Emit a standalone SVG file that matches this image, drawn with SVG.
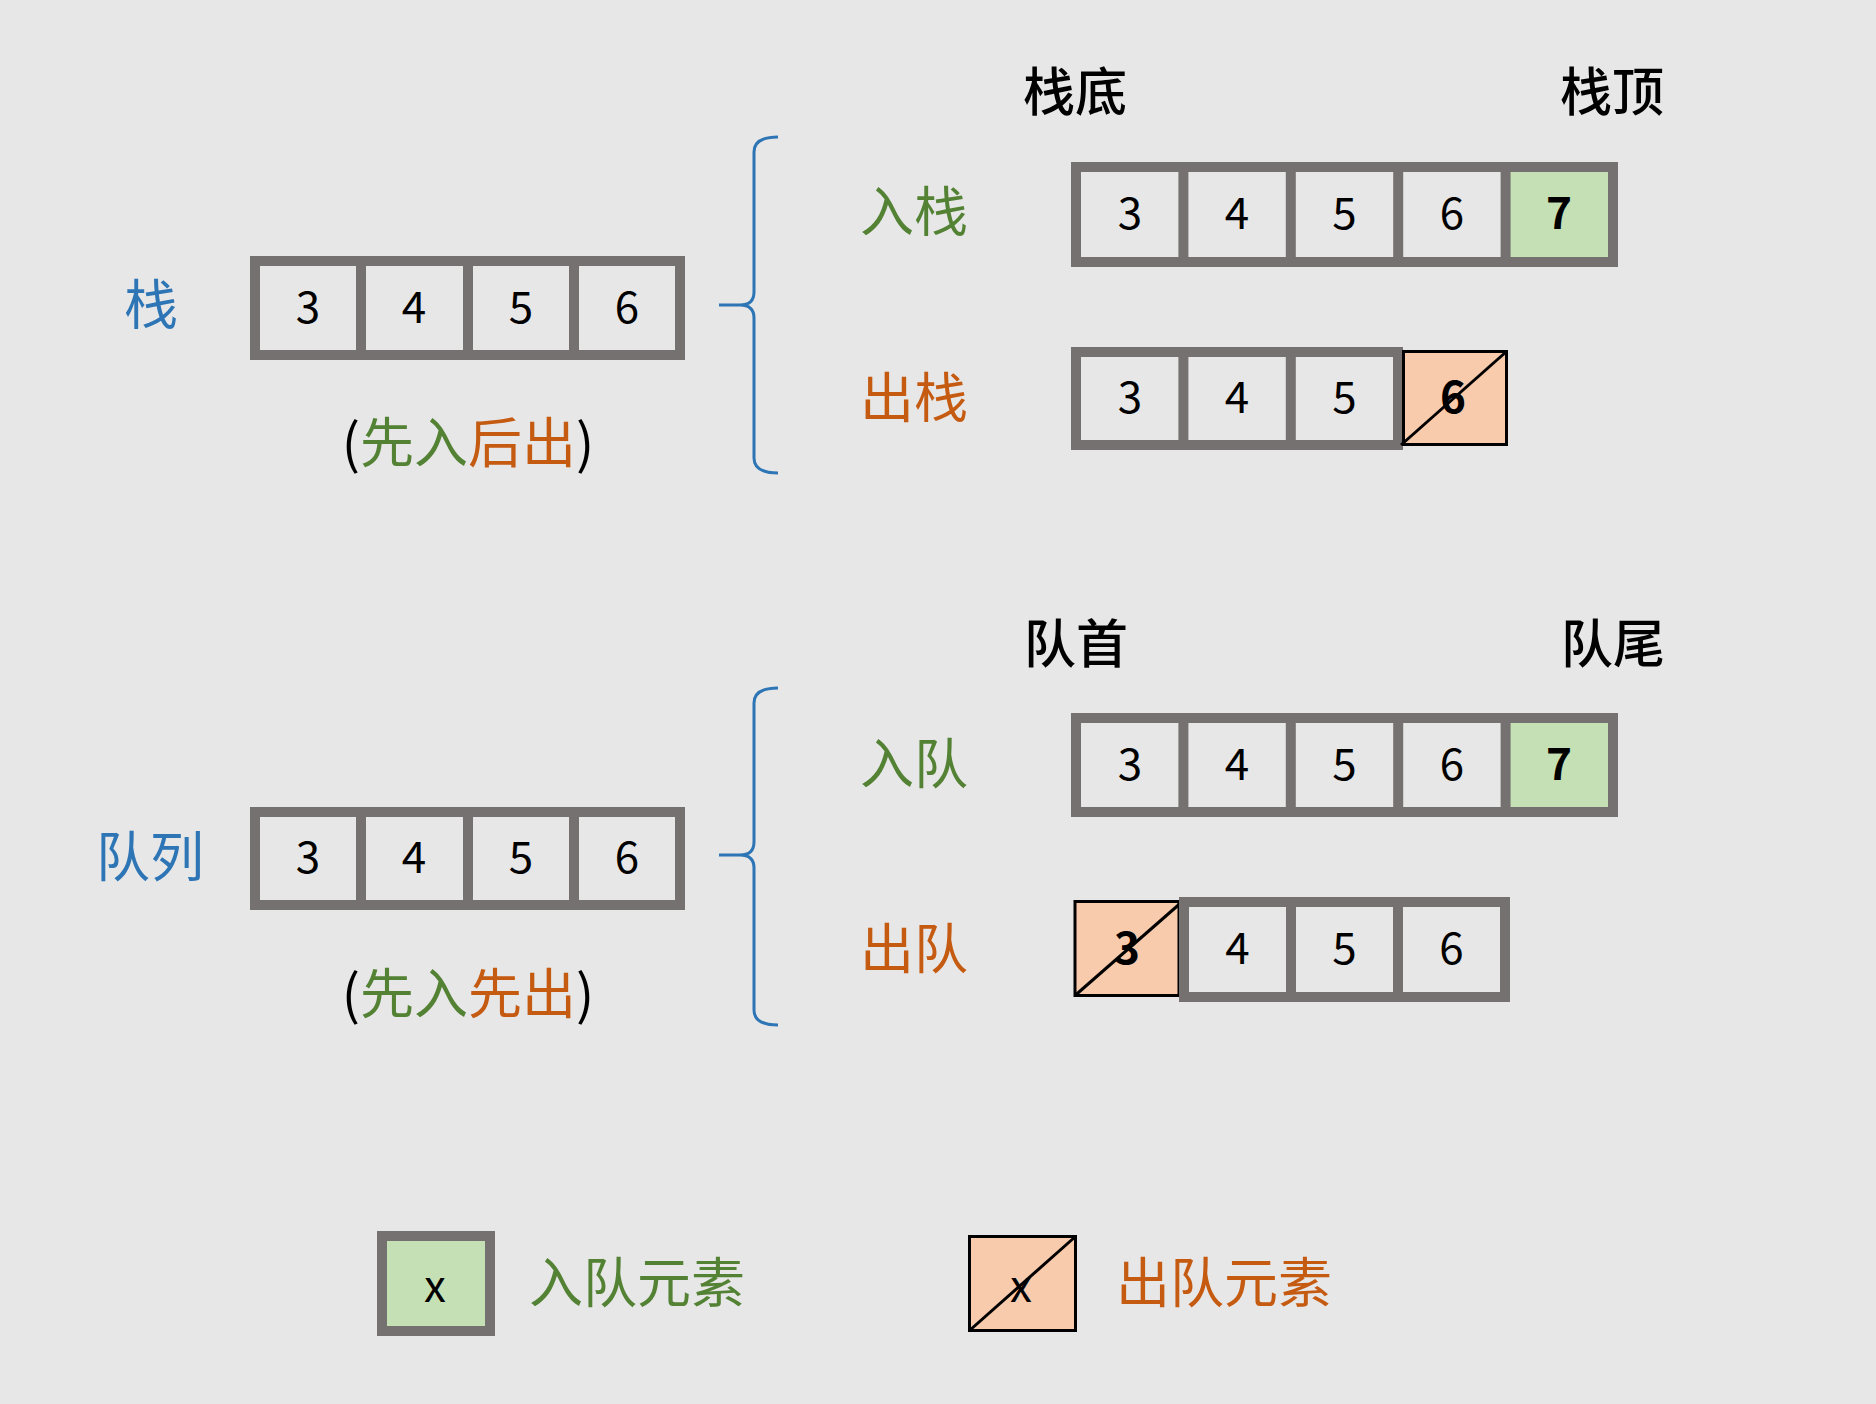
<svg xmlns="http://www.w3.org/2000/svg" width="1876" height="1404" viewBox="0 0 1876 1404">
<style>
.bg{fill:#e7e7e7}
.box{fill:none;stroke:#767171;stroke-width:10}
.div{stroke:#767171;stroke-width:10}
.gfill{fill:#c5e0b4}
.ofill{fill:#f8cbad;stroke:#000;stroke-width:3}
.slash{stroke:#000;stroke-width:3}
.num{font-family:"Noto Sans CJK SC","Noto Sans",sans-serif;font-size:44px;fill:#000;text-anchor:middle}
.b{font-weight:bold}
.lbl{font-family:"Noto Sans CJK SC",sans-serif;font-size:54px;text-anchor:middle}
.hdr{font-family:"Noto Sans CJK SC",sans-serif;font-size:52px;font-weight:500;fill:#000;text-anchor:middle}
.blue{fill:#2e75b6}
.green{fill:#548235}
.orange{fill:#c55a11}
.blk{fill:#000}
.brace{fill:none;stroke:#2e75b6;stroke-width:3}
</style>
<rect class="bg" x="0" y="0" width="1876" height="1404"/>

<!-- Stack -->
<g id="stack-label"><text class="lbl blue" x="151" y="325">栈</text></g>
<g id="stack">
  <rect class="box" x="255" y="261" width="425" height="94"/>
  <line class="div" x1="361" y1="261" x2="361" y2="355"/>
  <line class="div" x1="468" y1="261" x2="468" y2="355"/>
  <line class="div" x1="574" y1="261" x2="574" y2="355"/>
  <text class="num" x="308" y="323">3</text>
  <text class="num" x="414" y="323">4</text>
  <text class="num" x="521" y="323">5</text>
  <text class="num" x="627" y="323">6</text>
</g>
<g id="stack-note"><text class="lbl" x="468" y="463"><tspan class="blk">(</tspan><tspan class="green">先入</tspan><tspan class="orange">后出</tspan><tspan class="blk">)</tspan></text></g>

<g id="stack-bottom-label"><text class="hdr" x="1075" y="111">栈底</text></g>
<g id="stack-top-label"><text class="hdr" x="1612" y="111">栈顶</text></g>

<g id="push-label"><text class="lbl green" x="914" y="232">入栈</text></g>
<g id="push-stack">
  <rect class="gfill" x="1505" y="167" width="108" height="95"/>
  <rect class="box" x="1076" y="167" width="537" height="95"/>
  <line class="div" x1="1183.4" y1="167" x2="1183.4" y2="262"/>
  <line class="div" x1="1290.8" y1="167" x2="1290.8" y2="262"/>
  <line class="div" x1="1398.2" y1="167" x2="1398.2" y2="262"/>
  <line class="div" x1="1505.6" y1="167" x2="1505.6" y2="262"/>
  <text class="num" x="1130" y="229">3</text>
  <text class="num" x="1237" y="229">4</text>
  <text class="num" x="1344.5" y="229">5</text>
  <text class="num" x="1452" y="229">6</text>
  <text class="num b" x="1559" y="229">7</text>
</g>

<g id="pop-label"><text class="lbl orange" x="914" y="418">出栈</text></g>
<g id="pop-stack">
  <rect class="box" x="1076" y="352" width="322" height="93"/>
  <line class="div" x1="1183.4" y1="352" x2="1183.4" y2="445"/>
  <line class="div" x1="1290.8" y1="352" x2="1290.8" y2="445"/>
  <text class="num" x="1130" y="413">3</text>
  <text class="num" x="1237" y="413">4</text>
  <text class="num" x="1344.5" y="413">5</text>
  <rect class="ofill" x="1403.5" y="351.5" width="103" height="93"/>
  <text class="num b" x="1453" y="413">6</text>
  <line class="slash" x1="1401" y1="445" x2="1506.5" y2="351.5"/>
</g>

<!-- Queue -->
<g id="queue-label"><text class="lbl blue" x="150" y="877">队列</text></g>
<g id="queue">
  <rect class="box" x="255" y="812" width="425" height="93"/>
  <line class="div" x1="361" y1="812" x2="361" y2="905"/>
  <line class="div" x1="468" y1="812" x2="468" y2="905"/>
  <line class="div" x1="574" y1="812" x2="574" y2="905"/>
  <text class="num" x="308" y="873">3</text>
  <text class="num" x="414" y="873">4</text>
  <text class="num" x="521" y="873">5</text>
  <text class="num" x="627" y="873">6</text>
</g>
<g id="queue-note"><text class="lbl" x="468" y="1014"><tspan class="blk">(</tspan><tspan class="green">先入</tspan><tspan class="orange">先出</tspan><tspan class="blk">)</tspan></text></g>

<g id="queue-head-label"><text class="hdr" x="1076" y="663">队首</text></g>
<g id="queue-tail-label"><text class="hdr" x="1613" y="663">队尾</text></g>

<g id="enqueue-label"><text class="lbl green" x="914" y="784">入队</text></g>
<g id="enqueue">
  <rect class="gfill" x="1505" y="718" width="108" height="94"/>
  <rect class="box" x="1076" y="718" width="537" height="94"/>
  <line class="div" x1="1183.4" y1="718" x2="1183.4" y2="812"/>
  <line class="div" x1="1290.8" y1="718" x2="1290.8" y2="812"/>
  <line class="div" x1="1398.2" y1="718" x2="1398.2" y2="812"/>
  <line class="div" x1="1505.6" y1="718" x2="1505.6" y2="812"/>
  <text class="num" x="1130" y="780">3</text>
  <text class="num" x="1237" y="780">4</text>
  <text class="num" x="1344.5" y="780">5</text>
  <text class="num" x="1452" y="780">6</text>
  <text class="num b" x="1559" y="780">7</text>
</g>

<g id="dequeue-label"><text class="lbl orange" x="914" y="969">出队</text></g>
<g id="dequeue">
  <rect class="ofill" x="1075" y="901.5" width="104" height="94"/>
  <text class="num b" x="1127" y="964">3</text>
  <line class="slash" x1="1075" y1="995.5" x2="1183" y2="901"/>
  <rect class="box" x="1184" y="902" width="321" height="95"/>
  <line class="div" x1="1291" y1="902" x2="1291" y2="997"/>
  <line class="div" x1="1398" y1="902" x2="1398" y2="997"/>
  <text class="num" x="1237.5" y="964">4</text>
  <text class="num" x="1344.5" y="964">5</text>
  <text class="num" x="1451.5" y="964">6</text>
</g>

<!-- Legend -->
<g id="legend-enqueue">
  <rect class="gfill" x="382" y="1236" width="108" height="95"/>
  <rect class="box" x="382" y="1236" width="108" height="95"/>
  <text class="num" x="435" y="1302">x</text>
  <text class="lbl green" x="637" y="1303">入队元素</text>
</g>
<g id="legend-dequeue">
  <rect class="ofill" x="969.5" y="1236.5" width="106" height="94"/>
  <text class="num" x="1021" y="1302">x</text>
  <line class="slash" x1="969.5" y1="1330.5" x2="1075.5" y2="1236.5"/>
  <text class="lbl orange" x="1224" y="1303">出队元素</text>
</g>

<!-- Connectors (braces) -->
<g id="connectors">
  <path class="brace" d="M778,137 Q754,137 754,152 L754,292 Q754,305 740,305 L719,305 M740,305 Q754,305 754,318 L754,458 Q754,473 778,473"/>
  <path class="brace" d="M778,688 Q754,688 754,703 L754,842 Q754,855 740,855 L719,855 M740,855 Q754,855 754,868 L754,1010 Q754,1025 778,1025"/>
</g>
</svg>
